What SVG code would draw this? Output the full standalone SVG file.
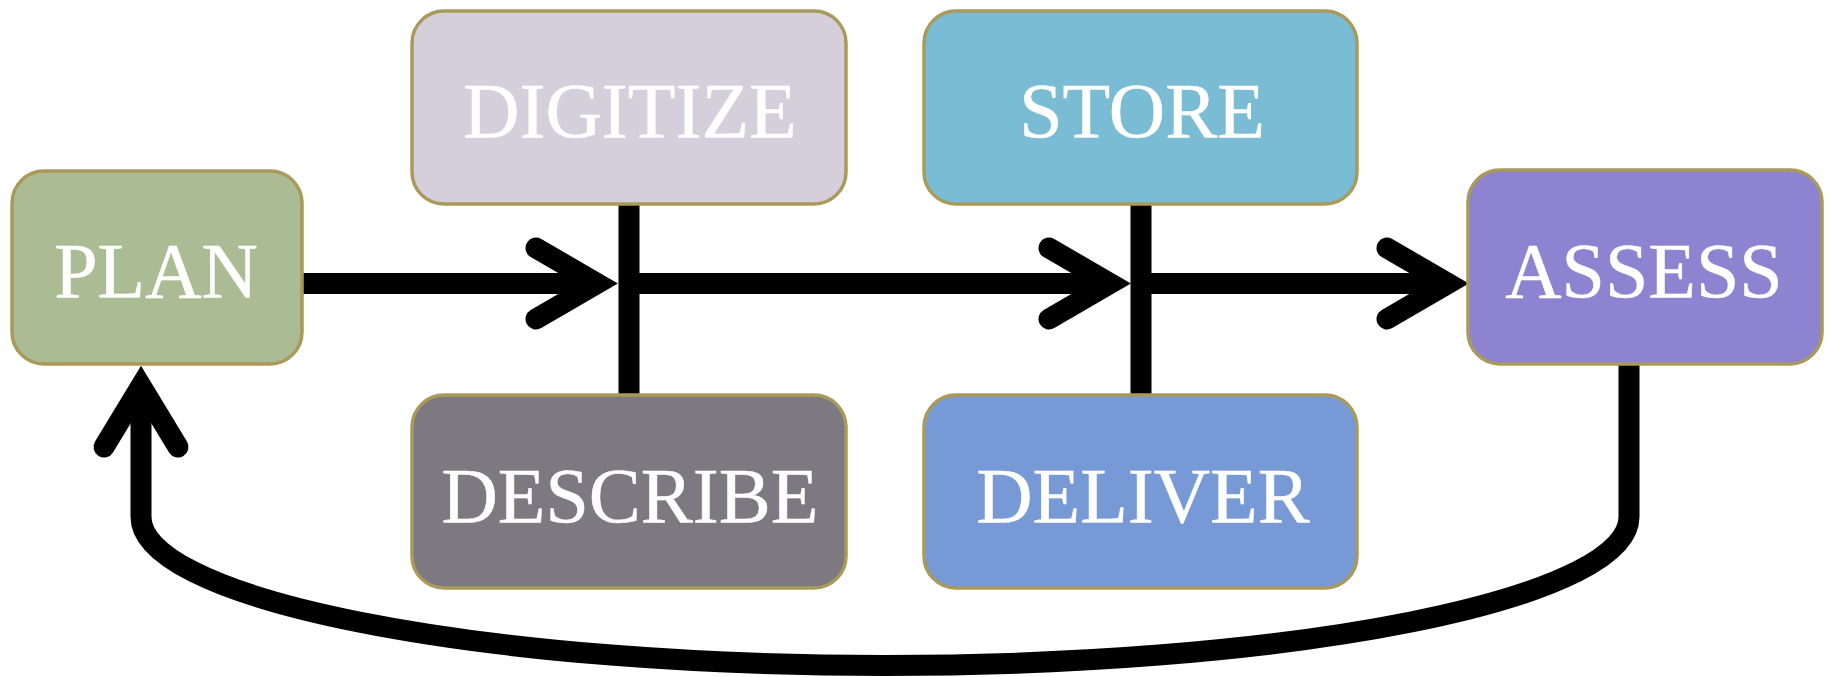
<svg xmlns="http://www.w3.org/2000/svg" width="1830" height="677" viewBox="0 0 1830 677">
  <style>
    .box { stroke: #a99a5a; stroke-width: 3.5; }
    .label { font-family: "Liberation Serif", "Times New Roman", serif; font-size: 78px; fill: #ffffff; stroke: #ffffff; stroke-width: 0.5; text-anchor: middle; }
    .wire { fill: none; stroke: #000000; stroke-width: 21; }
    .head { fill: none; stroke: #000000; stroke-width: 21; stroke-linecap: round; stroke-linejoin: miter; stroke-miterlimit: 4; }
  </style>
  <rect width="1830" height="677" fill="#ffffff"/>

  <!-- connectors -->
  <g id="connectors">
    <!-- main flow PLAN → ASSESS -->
    <line class="wire" x1="302" y1="283.5" x2="597" y2="283.5"/>
    <line class="wire" x1="629" y1="283.5" x2="1110" y2="283.5"/>
    <line class="wire" x1="1141" y1="283.5" x2="1448" y2="283.5"/>
    <polyline class="head" points="536,248 597,283.5 536,319"/>
    <polyline class="head" points="1049,248 1110,283.5 1049,319"/>
    <polyline class="head" points="1387,248 1448,283.5 1387,319"/>
    <!-- vertical ties between paired stages -->
    <line class="wire" x1="629" y1="204" x2="629" y2="395"/>
    <line class="wire" x1="1141" y1="204" x2="1141" y2="395"/>
    <!-- feedback loop ASSESS → PLAN -->
    <path class="wire" d="M1629,364 L1629,517 A744 148.5 0 0 1 885,665.5 A744 148.5 0 0 1 141,517 L141,386"/>
    <polyline class="head" points="104,447 141,386 178,447"/>
  </g>

  <!-- nodes -->
  <g id="plan">
    <rect class="box" x="12" y="171" width="290" height="193" rx="32" fill="#abbb94"/>
    <text class="label" x="156" y="297">PLAN</text>
  </g>
  <g id="digitize">
    <rect class="box" x="412" y="11" width="434" height="193" rx="32" fill="#d4cfdb"/>
    <text class="label" x="630" y="137">DIGITIZE</text>
  </g>
  <g id="describe">
    <rect class="box" x="412" y="395" width="434" height="193" rx="32" fill="#7c7980"/>
    <text class="label" x="630" y="521.5">DESCRIBE</text>
  </g>
  <g id="store">
    <rect class="box" x="924" y="11" width="433" height="193" rx="32" fill="#7bbcd5"/>
    <text class="label" x="1142" y="137">STORE</text>
  </g>
  <g id="deliver">
    <rect class="box" x="924" y="395" width="433" height="193" rx="32" fill="#779ad6"/>
    <text class="label" x="1143" y="521.5">DELIVER</text>
  </g>
  <g id="assess">
    <rect class="box" x="1468" y="170" width="354" height="194" rx="32" fill="#8d83d0"/>
    <text class="label" x="1644" y="297">ASSESS</text>
  </g>
</svg>
